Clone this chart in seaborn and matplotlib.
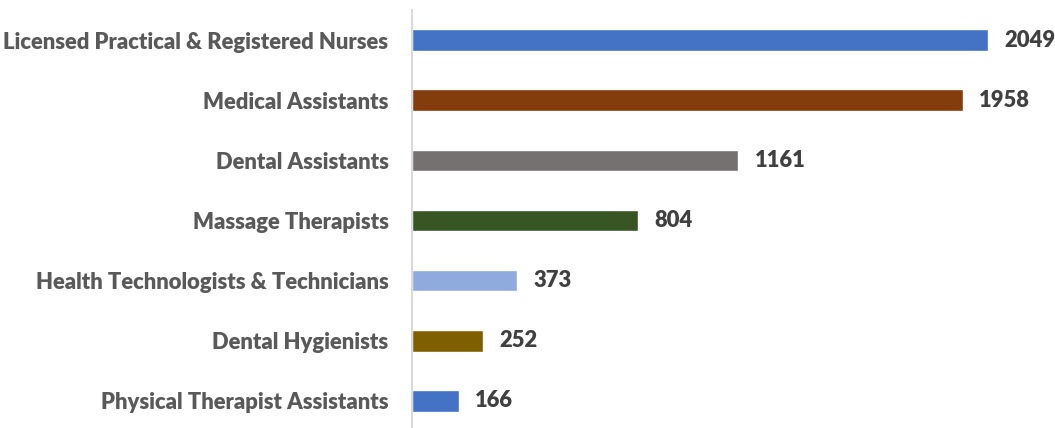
import matplotlib
matplotlib.use("Agg")
import matplotlib.pyplot as plt
import pandas as pd
import seaborn as sns

occupations = [
    "Licensed Practical & Registered Nurses",
    "Medical Assistants",
    "Dental Assistants",
    "Massage Therapists",
    "Health Technologists & Technicians",
    "Dental Hygienists",
    "Physical Therapist Assistants",
]
counts = [2049, 1958, 1161, 804, 373, 252, 166]
colors = ["#4472C4", "#843C0C", "#767171", "#375623", "#8FAADC", "#7F6000", "#4472C4"]

data = pd.DataFrame({"occupation": occupations, "count": counts})

sns.set_theme(style="white")
plt.rcParams["font.family"] = ["Lato", "DejaVu Sans"]

fig = plt.figure(figsize=(10.55, 4.28), dpi=100)
ax = fig.add_axes([412 / 1055, -3 / 428, 1 - 412 / 1055, 421 / 428])

sns.barplot(data=data, x="count", y="occupation", hue="occupation",
            palette=colors, order=occupations, hue_order=occupations,
            width=0.36, legend=False, ax=ax, saturation=1)

ax.set_xlim(0, 2287)
ax.set_ylim(6.5, -0.5)
ax.set_xlabel("")
ax.set_ylabel("")
ax.set_xticks([])
for side in ["top", "right", "bottom"]:
    ax.spines[side].set_visible(False)
ax.spines["left"].set_color("#d9d9d9")
ax.spines["left"].set_linewidth(1.5)

ax.tick_params(axis="y", length=0, pad=17)
for lbl in ax.get_yticklabels():
    lbl.set_fontsize(15.8)
    lbl.set_fontweight("heavy")
    lbl.set_color("#595959")

for i, v in enumerate(counts):
    ax.annotate(str(v), (v, i), xytext=(12, 0), textcoords="offset points",
                va="center", ha="left", fontsize=15.8, fontweight="heavy",
                color="#404040")

plt.savefig("out.png", dpi=100)
